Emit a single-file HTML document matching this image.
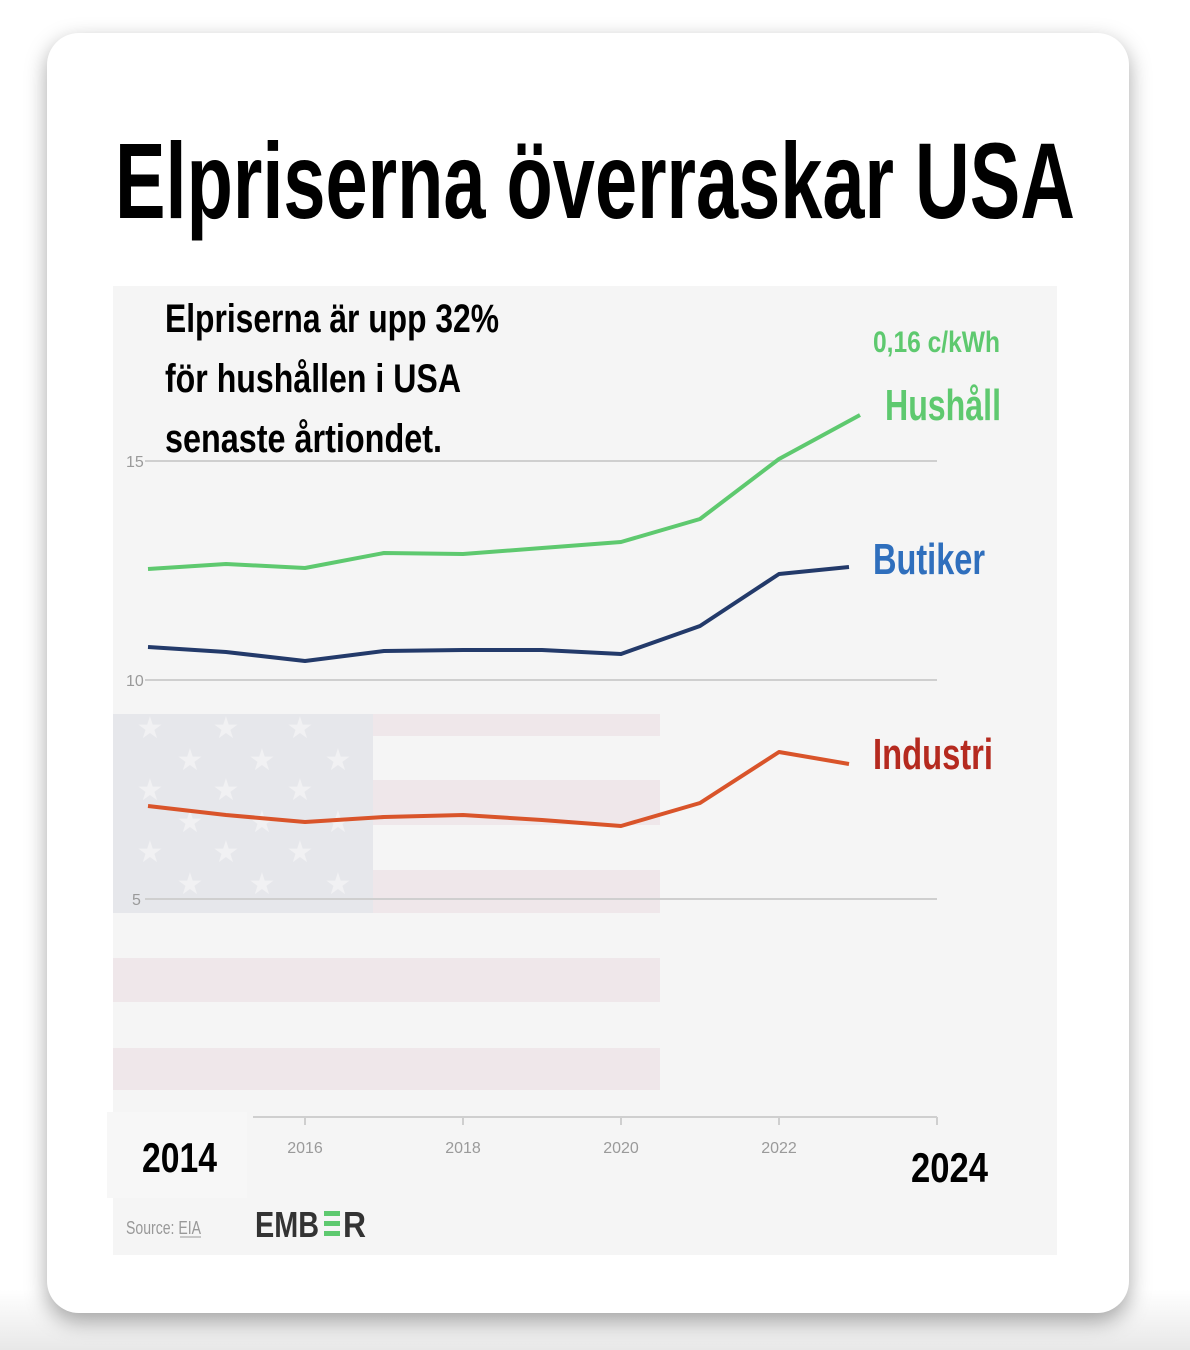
<!DOCTYPE html>
<html><head><meta charset="utf-8"><style>
html,body{margin:0;padding:0;background:#fff;}
body{width:1190px;height:1350px;overflow:hidden;position:relative;background:linear-gradient(#fff 1290px,#e8e8e8 1350px);}
.card{position:absolute;left:47px;top:33px;width:1082px;height:1280px;border-radius:32px;background:#fff;box-shadow:0 8px 22px rgba(0,0,0,0.35);}
svg{position:absolute;left:0;top:0;}
text{font-family:"Liberation Sans",sans-serif;}
</style></head><body>
<div class="card"></div>
<svg width="1190" height="1350" viewBox="0 0 1190 1350">
<text x="115" y="218" font-size="108" font-weight="bold" textLength="960" lengthAdjust="spacingAndGlyphs">Elpriserna överraskar USA</text>
<rect x="113" y="286" width="944" height="969" fill="#f5f5f5"/>
<g fill="#efe7ea">
<rect x="113" y="714" width="547" height="22"/>
<rect x="113" y="780" width="547" height="45"/>
<rect x="113" y="870" width="547" height="43"/>
<rect x="113" y="958" width="547" height="44"/>
<rect x="113" y="1048" width="547" height="42"/>
</g>
<rect x="113" y="714" width="260" height="199" fill="#e6e7eb"/>
<g fill="#f1f1f3" font-size="30" text-anchor="middle">
<text x="150" y="738">★</text><text x="226" y="738">★</text><text x="300" y="738">★</text>
<text x="190" y="770">★</text><text x="262" y="770">★</text><text x="338" y="770">★</text>
<text x="150" y="800">★</text><text x="226" y="800">★</text><text x="300" y="800">★</text>
<text x="190" y="832">★</text><text x="262" y="832">★</text><text x="338" y="832">★</text>
<text x="150" y="862">★</text><text x="226" y="862">★</text><text x="300" y="862">★</text>
<text x="190" y="894">★</text><text x="262" y="894">★</text><text x="338" y="894">★</text>
</g>
<g stroke="#cfcfcf" stroke-width="2">
<line x1="145" y1="461" x2="937" y2="461"/>
<line x1="145" y1="680" x2="937" y2="680"/>
<line x1="145" y1="899" x2="937" y2="899"/>
<line x1="253" y1="1117" x2="937" y2="1117"/>
<line x1="305" y1="1117" x2="305" y2="1125"/><line x1="463" y1="1117" x2="463" y2="1125"/>
<line x1="621" y1="1117" x2="621" y2="1125"/><line x1="779" y1="1117" x2="779" y2="1125"/>
<line x1="937" y1="1117" x2="937" y2="1125"/>
</g>
<g fill="#9a9a9a" font-size="16">
<text x="126" y="467">15</text><text x="126" y="686">10</text><text x="132" y="905">5</text>
<text x="305" y="1153" text-anchor="middle">2016</text><text x="463" y="1153" text-anchor="middle">2018</text>
<text x="621" y="1153" text-anchor="middle">2020</text><text x="779" y="1153" text-anchor="middle">2022</text>
</g>
<rect x="107" y="1112" width="140" height="86" fill="#f7f7f7"/>
<g fill="none" stroke-width="4" stroke-linejoin="round">
<polyline stroke="#5ec96f" points="148,569 226,564 305,568 384,553 463,554 542,548 621,542 700,519 779,459 860,415"/>
<polyline stroke="#233a6a" points="148,647 226,652 305,661 384,651 463,650 542,650 621,654 700,626 779,574 849,567"/>
<polyline stroke="#d9542a" points="148,806 226,815 305,822 384,817 463,815 542,820 621,826 700,803 779,752 849,764"/>
</g>
<g font-weight="bold">
<text x="165" y="332" font-size="40" textLength="334" lengthAdjust="spacingAndGlyphs">Elpriserna är upp 32%</text>
<text x="165" y="392" font-size="40" textLength="296" lengthAdjust="spacingAndGlyphs">för hushållen i USA</text>
<text x="165" y="452" font-size="40" textLength="277" lengthAdjust="spacingAndGlyphs">senaste årtiondet.</text>
<text x="873" y="352" font-size="30" fill="#5ec96f" textLength="127" lengthAdjust="spacingAndGlyphs">0,16 c/kWh</text>
<text x="885" y="420" font-size="44" fill="#5ec96f" textLength="116" lengthAdjust="spacingAndGlyphs">Hushåll</text>
<text x="873" y="574" font-size="44" fill="#2f6fbd" textLength="112" lengthAdjust="spacingAndGlyphs">Butiker</text>
<text x="873" y="769" font-size="44" fill="#b52a1f" textLength="120" lengthAdjust="spacingAndGlyphs">Industri</text>
<text x="142" y="1172" font-size="42" textLength="75" lengthAdjust="spacingAndGlyphs">2014</text>
<text x="911" y="1182" font-size="42" textLength="77" lengthAdjust="spacingAndGlyphs">2024</text>
<text x="255" y="1237" font-size="36" fill="#333" textLength="64" lengthAdjust="spacingAndGlyphs">EMB</text>
<text x="343" y="1237" font-size="36" fill="#333" textLength="23" lengthAdjust="spacingAndGlyphs">R</text>
</g>
<g fill="#5ec96f"><rect x="324" y="1211" width="16" height="5"/><rect x="324" y="1221" width="16" height="5"/><rect x="324" y="1231" width="16" height="5"/></g>
<text x="126" y="1234" font-size="18" fill="#999" textLength="75" lengthAdjust="spacingAndGlyphs">Source: EIA</text>
<line x1="180" y1="1237" x2="201" y2="1237" stroke="#999" stroke-width="1"/>
</svg>
</body></html>
